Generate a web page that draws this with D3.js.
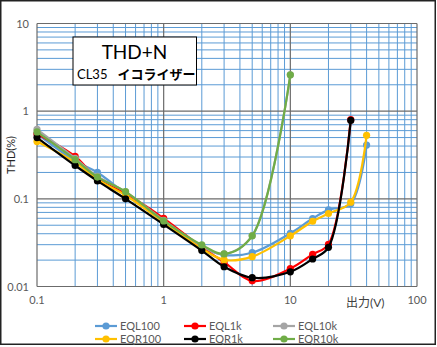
<!DOCTYPE html>
<html><head><meta charset="utf-8">
<script src="https://cdn.jsdelivr.net/npm/d3@7"></script>
<style>body{margin:0;background:#fff}svg{display:block}text{font-family:"Lato","Noto Sans CJK JP",sans-serif}</style>
</head><body><svg id="c" width="437" height="347"></svg>
<script>
const xValues = [0.1, 0.2, 0.3, 0.5, 1, 2, 3, 5, 10, 15, 20, 30, 40];
const seriesNames = ["EQL100", "EQL1k", "EQL10k", "EQR100", "EQR1k", "EQR10k"];
const seriesColors = ["#5B9BD5", "#FF0000", "#A5A5A5", "#FFC000", "#000000", "#70AD47"];
const EQL100 = [0.55, 0.27, 0.20, 0.115, 0.057, 0.028, 0.023, 0.0243, 0.0405, 0.0596, 0.0748, 0.088, 0.41];
const EQL1k  = [0.55, 0.305, 0.17, 0.115, 0.06, 0.028, 0.019, 0.0116, 0.016, 0.0233, 0.0303, 0.8];
const EQL10k = [0.62, 0.29, 0.18, 0.12, 0.057, 0.029, 0.0235, 0.038, 2.6];
const EQR100 = [0.45, 0.26, 0.165, 0.11, 0.054, 0.027, 0.0201, 0.0219, 0.0378, 0.0555, 0.068, 0.0917, 0.53];
const EQR1k  = [0.5, 0.24, 0.16, 0.1, 0.051, 0.0257, 0.0168, 0.0126, 0.0147, 0.0206, 0.028, 0.785];
const EQR10k = [0.58, 0.28, 0.177, 0.121, 0.056, 0.0298, 0.0235, 0.0378, 2.6];
const seriesValues = [EQL100, EQL1k, EQL10k, EQR100, EQR1k, EQR10k];
const xTickLabels = ["0.1", "1", "10", "100"];
const yTickLabels = ["0.01", "0.1", "1", "10"];

const svg = d3.select("#c");
svg.append("rect").attr("x",0.75).attr("y",0.75).attr("width",434.5).attr("height",343.5)
  .attr("fill","#fff").attr("stroke","#222").attr("stroke-width",1.5);

const L=37, R=417, T=23.5, B=286.5;
const x = d3.scaleLog().domain([0.1,100]).range([L,R]);
const y = d3.scaleLog().domain([0.01,10]).range([B,T]);

const g = svg.append("g");
const minorX=[], minorY=[];
for (let d of [0.1,1,10]) for (let k=2;k<=9;k++) minorX.push(d*k);
for (let d of [0.01,0.1,1]) for (let k=2;k<=9;k++) minorY.push(d*k);
g.selectAll(".mx").data(minorX).join("line").attr("x1",d=>x(d)).attr("x2",d=>x(d)).attr("y1",T).attr("y2",B)
  .attr("stroke","#5B9BD5").attr("stroke-width",1);
g.selectAll(".my").data(minorY).join("line").attr("y1",d=>y(d)).attr("y2",d=>y(d)).attr("x1",L).attr("x2",R)
  .attr("stroke","#5B9BD5").attr("stroke-width",1);
const majX = xTickLabels.map(Number), majY = yTickLabels.map(Number);
g.selectAll(".Mx").data(majX).join("line").attr("x1",d=>x(d)).attr("x2",d=>x(d)).attr("y1",T).attr("y2",B)
  .attr("stroke","#6b6b6b").attr("stroke-width",1.2);
g.selectAll(".My").data(majY).join("line").attr("y1",d=>y(d)).attr("y2",d=>y(d)).attr("x1",L).attr("x2",R)
  .attr("stroke","#6b6b6b").attr("stroke-width",1.2);

g.selectAll(".xt").data(xTickLabels).join("text").attr("x",d=>x(+d)).attr("y",304)
  .attr("text-anchor","middle").attr("font-size",11).attr("fill","#595959").text(d=>d);
g.selectAll(".yt").data(yTickLabels).join("text").attr("x",29).attr("y",d=>y(+d)+4)
  .attr("text-anchor","end").attr("font-size",11).attr("fill","#595959").text(d=>d);
svg.append("text").attr("x",346).attr("y",307).attr("font-size",12).attr("fill","#404040").text("出力(V)");
svg.append("text").attr("transform","translate(15,155) rotate(-90)").attr("text-anchor","middle")
  .attr("font-size",11).attr("fill","#262626").text("THD(%)");

const line = d3.line().x(d=>x(d[0])).y(d=>y(d[1])).curve(d3.curveCatmullRom.alpha(0.5));
seriesNames.forEach((n,i)=>{
  const pts = seriesValues[i].map((v,j)=>[xValues[j],v]);
  const sg = svg.append("g");
  sg.append("path").attr("d",line(pts)).attr("fill","none").attr("stroke",seriesColors[i]).attr("stroke-width",2.2);
  sg.selectAll("circle").data(pts).join("circle").attr("cx",d=>x(d[0])).attr("cy",d=>y(d[1])).attr("r",3.6)
    .attr("fill",seriesColors[i]);
});

svg.append("rect").attr("x",73).attr("y",37).attr("width",123.5).attr("height",48)
  .attr("fill","#fff").attr("stroke","#000").attr("stroke-width",1);
svg.append("text").attr("x",134.5).attr("y",59).attr("text-anchor","middle").attr("font-size",19).attr("fill","#000").text("THD+N");
const st = svg.append("text").attr("x",77).attr("y",79).attr("fill","#000");
st.append("tspan").attr("font-size",13).text("CL35");
st.append("tspan").attr("dx",10).attr("font-size",13).attr("font-weight","bold").text("イコライザー");

const legX=[95,184,273], legY=[326,339];
seriesNames.forEach((n,i)=>{
  const lx=legX[i%3], ly=legY[Math.floor(i/3)];
  svg.append("line").attr("x1",lx).attr("x2",lx+22).attr("y1",ly).attr("y2",ly).attr("stroke",seriesColors[i]).attr("stroke-width",2.2);
  svg.append("circle").attr("cx",lx+11).attr("cy",ly).attr("r",3.6).attr("fill",seriesColors[i]);
  svg.append("text").attr("x",lx+25).attr("y",ly+4).attr("font-size",11).attr("fill","#595959").text(n);
});
</script></body></html>
